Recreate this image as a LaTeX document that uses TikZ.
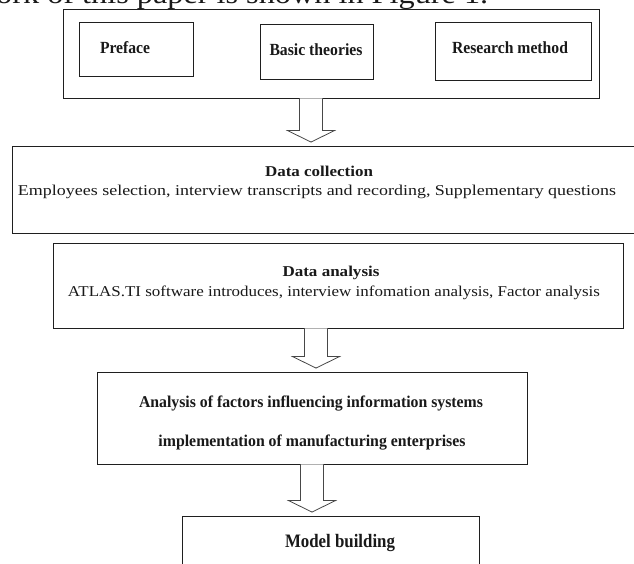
\documentclass[tikz,border=0pt]{standalone}
\usepackage{fontspec}
\setmainfont{Liberation Serif}
\usetikzlibrary{calc}
\newcommand{\fitw}[2]{\resizebox{#1}{\height}{#2}}
\newcommand{\blockarrow}[3]{%
  \draw[barrow] let \p1=(#2.south), \p2=(#3.north) in
    ({#1pt-11.5pt},\y1) -- ({#1pt-11.5pt},{\y2+15pt}) -- ({#1pt-23.5pt},{\y2+15pt})
    -- (#1pt,{\y2+3.5pt}) -- ({#1pt+23.5pt},{\y2+15pt}) -- ({#1pt+11.5pt},{\y2+15pt})
    -- ({#1pt+11.5pt},\y1);}
\begin{document}
\begin{tikzpicture}[x=1pt,y=-1pt,
  box/.style={draw=black!88,line width=0.9pt,rectangle,inner sep=0pt},
  barrow/.style={draw=black!72,line width=0.8pt,fill=white,line join=miter},
  txt/.style={inner sep=0pt,text=black!90},
  topt/.style={txt,font=\bfseries\fontsize{17}{20}\selectfont},
  titlet/.style={txt,font=\bfseries\fontsize{15}{18}\selectfont},
  bodyt/.style={txt,font=\fontsize{15}{18}\selectfont},
  anat/.style={txt,font=\bfseries\fontsize{16.5}{20}\selectfont}]
\useasboundingbox (0,0) rectangle (634,563);
\clip (0,0) rectangle (634,563);
\fill[white] (0,0) rectangle (634,563);
% cut-off line of the page text above the figure
\node[txt,anchor=base west,font=\fontsize{28}{32}\selectfont] (caption) at (-4,3.5) {\fitw{492pt}{ork of this paper is shown in Figure 1.}};
% boxes
\node[box,minimum width=536pt,minimum height=89pt] (outer) at (331,53.5) {};
\node[box,minimum width=114pt,minimum height=54pt] (pref) at (136,49) {};
\node[box,minimum width=113pt,minimum height=55pt] (basic) at (316.5,51.5) {};
\node[box,minimum width=156pt,minimum height=58pt] (resm) at (513,51) {};
\node[box,minimum width=640pt,minimum height=87pt] (dc) at (332,189.5) {};
\node[box,minimum width=570pt,minimum height=85pt] (da) at (338,285.5) {};
\node[box,minimum width=430pt,minimum height=92pt] (ana) at (312,418) {};
\node[box,minimum width=297pt,minimum height=90pt] (model) at (330.5,561) {};
% texts
\node[topt] (preft) at (125,48) {\fitw{50pt}{Preface}};
\node[topt] (basict) at (316,50) {\fitw{93pt}{Basic theories}};
\node[topt] (resmt) at (510,48) {\fitw{116pt}{Research method}};
\node[titlet] (dct) at (319,171) {\fitw{108pt}{Data collection}};
\node[bodyt] (dcb) at (317,192) {\fitw{598pt}{Employees selection, interview transcripts and recording, Supplementary questions}};
\node[titlet] (dat) at (331,273) {\fitw{97pt}{Data analysis}};
\node[bodyt] (dab) at (334,293) {\fitw{532pt}{ATLAS.TI software introduces, interview infomation analysis, Factor analysis}};
\node[anat] (ana1) at (311,404) {\fitw{344pt}{Analysis of factors influencing information systems}};
\node[anat] (ana2) at (312,443) {\fitw{307pt}{implementation of manufacturing enterprises}};
\node[txt,font=\bfseries\fontsize{19}{22}\selectfont] (modelt) at (340,543) {\fitw{110pt}{Model building}};
% block arrows
\blockarrow{311}{outer}{dc}
\blockarrow{316}{da}{ana}
\blockarrow{312}{ana}{model}
\end{tikzpicture}
\end{document}
